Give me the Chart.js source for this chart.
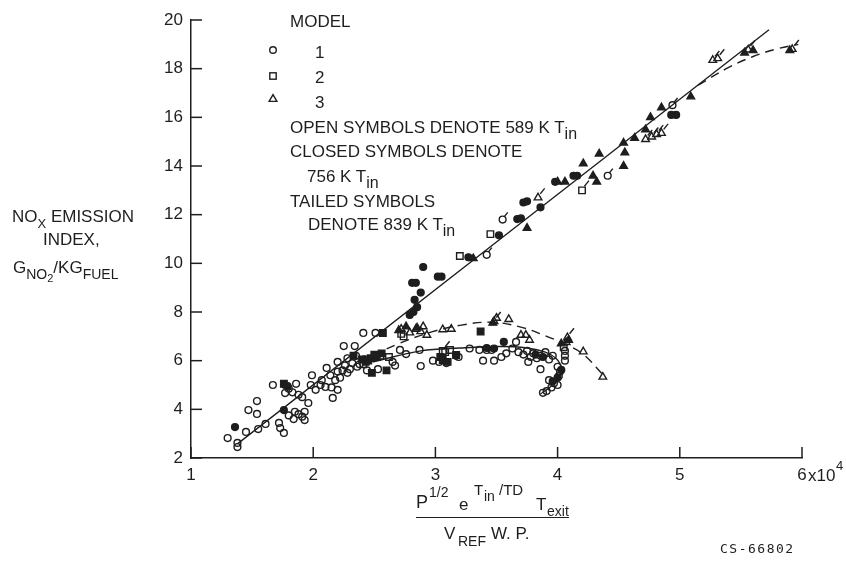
<!DOCTYPE html>
<html>
<head>
<meta charset="utf-8">
<script src="https://cdn.jsdelivr.net/npm/chart.js@4.4.0/dist/chart.umd.min.js"></script>
<style>
  html, body { margin: 0; padding: 0; background: #fff; }
  #wrap { position: relative; width: 846px; height: 561px; overflow: hidden;
          font-family: 'Liberation Sans', Arial, sans-serif; color: #1e1e1e; }
  #c { position: absolute; left: 0; top: 0; }
  .t { position: absolute; white-space: nowrap; line-height: 1; font-size: 17px; }
  .sb { position: relative; top: 6px; font-size: 14px; }
  .mono { font-family: 'DejaVu Sans Mono', 'Liberation Mono', monospace; font-size: 13px; letter-spacing: 1.5px; }
</style>
</head>
<body>
<div id="wrap">
  <canvas id="c" width="846" height="561" style="width:846px;height:561px"></canvas>

  <!-- y axis title -->
  <div class="t" style="left:12px;top:208px">NO<span class="sb" style="font-size:13px">X</span> EMISSION</div>
  <div class="t" style="left:43px;top:231px">INDEX,</div>
  <div class="t" style="left:13px;top:259px">G<span class="sb">NO<span style="font-size:11px;position:relative;top:3px">2</span></span>/KG<span class="sb">FUEL</span></div>

  <!-- legend -->
  <div class="t" style="left:290px;top:13px">MODEL</div>
  <svg style="position:absolute;left:260px;top:40px" width="26" height="70">
    <circle cx="13" cy="10" r="3.3" fill="none" stroke="#1e1e1e" stroke-width="1.4"/>
    <rect x="9.8" y="32.8" width="6.4" height="6.4" fill="none" stroke="#1e1e1e" stroke-width="1.4"/>
    <polygon points="13,54.6 16.9,61.4 9.1,61.4" fill="none" stroke="#1e1e1e" stroke-width="1.4"/>
  </svg>
  <div class="t" style="left:315px;top:44px">1</div>
  <div class="t" style="left:315px;top:69px">2</div>
  <div class="t" style="left:315px;top:94px">3</div>
  <div class="t" style="left:290px;top:119px">OPEN SYMBOLS DENOTE 589 K T<span class="sb" style="font-size:16px">in</span></div>
  <div class="t" style="left:290px;top:143px">CLOSED SYMBOLS DENOTE</div>
  <div class="t" style="left:307px;top:168px">756 K T<span class="sb" style="font-size:16px">in</span></div>
  <div class="t" style="left:290px;top:193px">TAILED SYMBOLS</div>
  <div class="t" style="left:308px;top:216px">DENOTE 839 K T<span class="sb" style="font-size:16px">in</span></div>

  <!-- x axis: power of ten after the last tick -->
  <div class="t" style="left:808px;top:467px">x10</div>
  <div class="t" style="left:836px;top:459px;font-size:13px">4</div>

  <!-- x axis title (fraction) -->
  <div class="t" style="left:416px;top:493px;font-size:18px">P</div>
  <div class="t" style="left:429px;top:485px;font-size:14px">1/2</div>
  <div class="t" style="left:459px;top:496px">e</div>
  <div class="t" style="left:474px;top:482px;font-size:15px">T</div>
  <div class="t" style="left:484px;top:489px;font-size:14px">in</div>
  <div class="t" style="left:499px;top:482px;font-size:15px">/TD</div>
  <div class="t" style="left:536px;top:496px">T</div>
  <div class="t" style="left:547px;top:504px;font-size:14px">exit</div>
  <div style="position:absolute;left:416px;top:517px;width:153px;height:0;border-top:1.5px solid #1e1e1e"></div>
  <div class="t" style="left:444px;top:525px">V</div>
  <div class="t" style="left:458px;top:534px;font-size:14px">REF</div>
  <div class="t" style="left:491px;top:525px">W. P.</div>
  <div class="t mono" style="left:720px;top:542px">CS-66802</div>
</div>

<script>
// axis ticks
const xTicks = [1, 2, 3, 4, 5, 6];
const yTicks = [2, 4, 6, 8, 10, 12, 14, 16, 18, 20];

// model 1 (circles)
const model1Open = [
  [1.30,2.82],[1.38,2.62],[1.38,2.45],[1.45,3.07],[1.47,3.97],[1.54,4.34],[1.54,3.81],[1.55,3.19],
  [1.61,3.40],[1.67,5.00],[1.72,3.44],[1.73,3.23],[1.76,3.03],[1.77,4.67],[1.80,4.85],[1.83,4.70],
  [1.86,5.05],[1.88,4.60],[1.80,3.75],[1.85,3.90],[1.88,3.80],[1.91,3.70],[1.84,3.60],[1.93,3.90],
  [1.93,3.56],[1.91,4.50],[1.96,4.26],[1.98,5.00],[1.99,5.40],[2.02,4.80],[2.06,5.00],[2.07,5.20],
  [2.10,4.92],[2.15,4.90],[2.16,4.47],[2.20,4.80],[2.11,5.70],[2.20,5.95],[2.25,6.60],[2.24,5.60],
  [2.28,5.50],[2.32,5.90],[2.14,5.40],[2.18,5.20],[2.22,5.30],[2.26,5.80],[2.30,5.65],[2.28,6.10],
  [2.35,6.20],[2.20,5.55],[2.38,5.85],[2.42,6.05],[2.36,5.75],
  [2.41,7.14],[2.51,7.14],[2.34,6.60],[2.44,5.60],[2.53,5.65],[2.67,5.80],[2.65,5.95],[2.71,6.44],
  [2.76,6.27],[2.87,6.44],[2.88,5.78],[2.98,6.00],[3.03,5.95],[3.09,5.90],[3.19,6.15],[3.28,6.50],
  [3.36,6.44],[3.42,6.44],[3.46,6.44],[3.39,6.00],[3.48,6.00],[3.54,6.15],[3.58,6.30],[3.66,6.77],
  [3.63,6.50],[3.68,6.35],[3.72,6.25],[3.75,6.40],[3.78,6.15],[3.80,6.30],[3.83,6.10],[3.86,6.20],
  [3.90,6.35],[3.93,6.05],[3.96,6.20],[3.76,5.95],[3.86,5.65],[4.00,5.75],[4.02,5.55],[4.01,5.37],
  [3.93,5.20],[3.97,5.07],[4.00,5.00],[3.95,4.90],[3.91,4.75],[3.88,4.68],[4.06,6.00],[4.06,6.20],
  [4.06,6.40]
];
const model1Closed = [
  [1.36,3.27],[1.77,5.00],[1.79,4.95],[1.76,3.97],[2.79,7.88],[2.82,8.00],[2.85,8.20],[2.83,8.50],
  [2.88,8.80],[2.81,9.20],[2.84,9.20],[2.90,9.85],[3.02,9.45],[3.05,9.45],[3.27,10.25],[3.52,11.15],
  [3.67,11.82],[3.70,11.85],[3.72,12.50],[3.75,12.55],[3.86,12.30],[3.98,13.35],[4.13,13.60],
  [4.16,13.60],[4.93,16.10],[4.97,16.10],[3.17,6.20],[3.42,6.52],[3.48,6.50],[3.56,6.77],
  [3.82,6.25],[3.88,6.15],[4.03,5.62],[4.00,5.30],[3.96,5.15]
];
const model1Tailed = [[3.42,10.35],[3.55,11.80],[4.41,13.60],[4.94,16.50]];

// model 2 (squares)
const model2Open = [
  [3.20,10.30],[3.45,11.20],[2.55,6.20],[2.62,6.15],[3.08,6.35],[3.12,6.44],[2.74,7.00],[2.41,5.85],
  [4.05,6.55],[2.72,7.10]
];
const model2Closed = [
  [1.76,5.05],[2.33,6.20],[2.43,5.95],[2.48,5.50],[2.60,5.60],[2.47,6.10],[2.50,6.25],[2.52,6.15],
  [2.56,6.30],[2.57,7.14],[3.04,6.15],[3.06,6.03],[3.10,5.95],[3.17,6.23],[3.37,7.20],[2.45,6.00],
  [2.40,6.05]
];
const model2Tailed = [[4.20,13.00],[3.06,6.40]];

// model 3 (triangles)
const model3Open = [
  [2.72,7.30],[2.79,7.15],[2.84,7.30],[2.88,7.20],[2.93,7.05],[3.06,7.28],[3.13,7.30],[3.50,7.75],
  [3.60,7.70],[3.70,7.05],[3.74,7.05],[3.77,6.85],[4.07,6.75],[4.21,6.37],[4.37,5.33],[2.90,7.40]
];
const model3Closed = [
  [2.70,7.25],[2.76,7.40],[2.85,7.35],[3.31,10.20],[3.75,11.45],[4.00,13.35],[4.06,13.35],[4.21,14.10],
  [4.34,14.50],[4.32,13.35],[4.29,13.60],[4.54,14.00],[4.54,14.95],[4.55,14.55],[4.63,15.15],
  [4.72,15.50],[4.76,16.00],[4.85,16.40],[5.09,16.85],[5.53,18.65],[5.60,18.75],[5.90,18.75],
  [4.09,6.85],[4.03,6.70],[3.47,7.55]
];
const model3Tailed = [
  [3.84,12.70],[4.72,15.10],[4.77,15.20],[4.81,15.30],[4.85,15.35],[5.27,18.35],[5.31,18.42],
  [5.56,18.78],[5.92,18.80],[3.48,7.62],[4.08,6.95]
];

// faired curves
const fitLine = [[1.38,2.58],[5.73,19.60]];
const upperBend = [[5.15,17.32],[5.40,18.05],[5.60,18.50],[5.80,18.82],[5.97,19.00]];
const lowerCurve = [[2.49,5.95],[2.88,6.40],[3.20,6.52],[3.53,6.58],[3.75,6.52],[3.90,6.35],
  [3.99,6.08],[4.03,5.70],[4.01,5.30],[3.94,4.92],[3.86,4.63]];
const middleCurve = [[2.38,5.95],[2.70,6.70],[2.97,7.18],[3.20,7.45],[3.45,7.58],[3.70,7.38],
  [3.90,7.02],[4.05,6.70],[4.20,6.30],[4.38,5.38]];

const INK = '#1e1e1e';
const FONT = "'Liberation Sans', Arial, sans-serif";

function pts(arr) {
    return arr.map(p => ({ x: p[0], y: p[1] }));
}

function symbols(data, style, filled, radius, tailed) {
    return {
        data: pts(data),
        pointStyle: style,
        pointRadius: radius,
        pointBorderWidth: 1.4,
        pointBorderColor: INK,
        pointBackgroundColor: filled ? INK : 'rgba(255,255,255,0)',
        showLine: false,
        tailed: !!tailed
    };
}

function curve(data, dashed) {
    return {
        data: pts(data),
        showLine: true,
        pointRadius: 0,
        borderColor: INK,
        borderWidth: 1.4,
        borderDash: dashed ? [9, 6] : [],
        tension: 0.4,
        fill: false
    };
}

// short tails on the 839 K symbols
const tails = {
    id: 'tails',
    afterDatasetsDraw(chart) {
        const ctx = chart.ctx;
        ctx.save();
        ctx.strokeStyle = INK;
        ctx.lineWidth = 1.4;
        chart.data.datasets.forEach((ds, i) => {
            if (!ds.tailed) return;
            chart.getDatasetMeta(i).data.forEach(pt => {
                const r = ds.pointRadius;
                ctx.beginPath();
                ctx.moveTo(pt.x + r * 0.5, pt.y - r * 0.85);
                ctx.lineTo(pt.x + r * 1.5, pt.y - r * 2.1);
                ctx.stroke();
            });
        });
        ctx.restore();
    }
};

// inward tick marks
const inwardTicks = {
    id: 'inwardTicks',
    afterDraw(chart) {
        const { ctx, chartArea, scales } = chart;
        ctx.save();
        ctx.strokeStyle = INK;
        ctx.lineWidth = 1.5;
        xTicks.forEach(v => {
            const px = scales.x.getPixelForValue(v);
            ctx.beginPath();
            ctx.moveTo(px, chartArea.bottom);
            ctx.lineTo(px, chartArea.bottom - 11);
            ctx.stroke();
        });
        yTicks.forEach(v => {
            const py = scales.y.getPixelForValue(v);
            ctx.beginPath();
            ctx.moveTo(chartArea.left, py);
            ctx.lineTo(chartArea.left + 11, py);
            ctx.stroke();
        });
        ctx.restore();
    }
};

const ctx = document.getElementById('c');
new Chart(ctx, {
    type: 'scatter',
    data: {
        datasets: [
            symbols(model1Open, 'circle', false, 3.4),
            symbols(model1Closed, 'circle', true, 3.4),
            symbols(model1Tailed, 'circle', false, 3.4, true),
            symbols(model2Open, 'rect', false, 4.6),
            symbols(model2Closed, 'rect', true, 4.6),
            symbols(model2Tailed, 'rect', false, 4.6, true),
            symbols(model3Open, 'triangle', false, 4.4),
            symbols(model3Closed, 'triangle', true, 4.4),
            symbols(model3Tailed, 'triangle', false, 4.4, true),
            curve(fitLine, false),
            curve(upperBend, true),
            curve(lowerCurve, false),
            curve(middleCurve, true)
        ]
    },
    options: {
        responsive: false,
        animation: false,
        devicePixelRatio: 1,
        layout: { padding: { left: 131, right: 44, top: 20, bottom: 63 } },
        plugins: {
            legend: { display: false },
            tooltip: { enabled: false }
        },
        scales: {
            x: {
                type: 'linear',
                min: 1,
                max: 6,
                afterFit: s => { s.height = 40; },
                afterBuildTicks: s => { s.ticks = xTicks.map(v => ({ value: v })); },
                ticks: { color: INK, padding: 7, maxRotation: 0, font: { family: FONT, size: 17 } },
                grid: { display: false, drawTicks: false },
                border: { display: true, color: INK, width: 1.5 }
            },
            y: {
                type: 'linear',
                min: 2,
                max: 20,
                afterFit: s => { s.width = 60; },
                afterBuildTicks: s => { s.ticks = yTicks.map(v => ({ value: v })); },
                ticks: { color: INK, padding: 8, font: { family: FONT, size: 17 } },
                grid: { display: false, drawTicks: false },
                border: { display: true, color: INK, width: 1.5 }
            }
        }
    },
    plugins: [tails, inwardTicks]
});
</script>
</body>
</html>
